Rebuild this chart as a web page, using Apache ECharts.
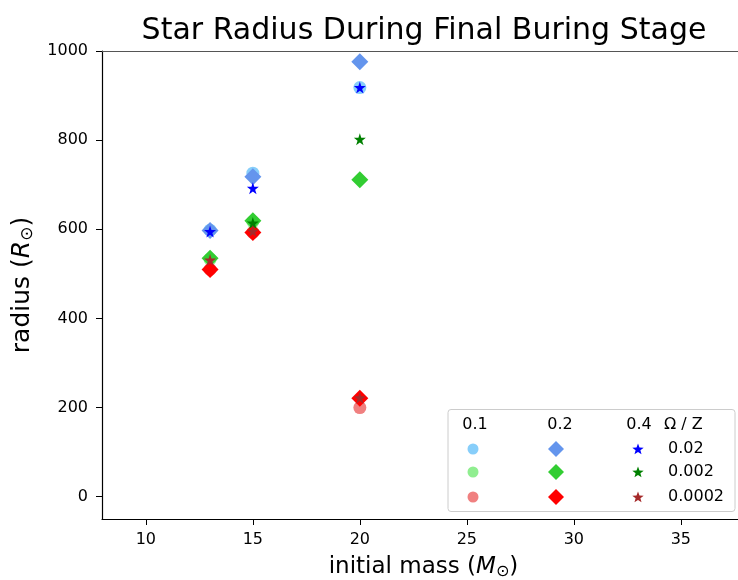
<!DOCTYPE html>
<html><head><meta charset="utf-8">
<script src="https://cdn.jsdelivr.net/npm/echarts@6/dist/echarts.min.js"></script>
<style>html,body{margin:0;padding:0;background:#fff}#c{width:738px;height:580px}</style>
</head><body><div id="c"></div>
<script>
// ---- data ----
const title = 'Star Radius During Final Buring Stage';
const xTicks = [10, 15, 20, 25, 30, 35];
const yTicks = [0, 200, 400, 600, 800, 1000];
// Omega = 0.1 (circles)
const circ_002  = [[13, 598], [15, 726], [20, 918]];
const circ_0002 = [[13, 533], [15, 617]];
const circ_00002 = [[13, 510], [15, 593], [20, 200]];
// Omega = 0.2 (diamonds)
const diam_002  = [[13, 597], [15, 718], [20, 976]];
const diam_0002 = [[13, 535], [15, 619], [20, 711]];
const diam_00002 = [[13, 510], [15, 593], [20, 221]];
// Omega = 0.4 (stars)
const star_002  = [[13, 595], [15, 692], [20, 918]];
const star_0002 = [[15, 614], [20, 802]];
const star_00002 = [[13, 531], [15, 596], [20, 222]];
const omegaLabels = ['0.1', '0.2', '0.4'];
const zLabels = ['0.02', '0.002', '0.0002'];

const FONT = 'DejaVu Sans';
const STAR = 'path://M50,0 L61.2,34.5 L97.6,34.5 L68.2,55.9 L79.4,90.5 L50,69.1 L20.6,90.5 L31.8,55.9 L2.4,34.5 L38.8,34.5 Z';
const colC = ['#87CEFA', '#90EE90', '#F08080'];
const colD = ['#6495ED', '#32CD32', '#FF0000'];
const colS = ['#0000FF', '#008000', '#A52A2A'];

function sc(data, sym, size, color, z) {
  return { type: 'scatter', data: data, symbol: sym, symbolSize: size, z: z,
    itemStyle: { color: color, opacity: 1 }, emphasis: { disabled: true }, animation: false };
}

function starPts(cx, cy, r) {
  const pts = [];
  for (let i = 0; i < 10; i++) {
    const rr = i % 2 === 0 ? r : r * 0.42;
    const a = -Math.PI / 2 + i * Math.PI / 5;
    pts.push([cx + rr * Math.cos(a), cy + rr * Math.sin(a)]);
  }
  return pts;
}

const F16 = '16px "' + FONT + '"';
const legendX = [473, 556, 638];
const rowsY = [449, 472, 497];
const g = [{ type: 'text', x: 424, y: 31, z: 101,
  style: { text: title, font: '30px "' + FONT + '"', fill: '#000', align: 'center', verticalAlign: 'middle' } },
  { type: 'rect', shape: { x: 448, y: 409.5, width: 287, height: 102, r: 3 },
  style: { fill: 'rgba(255,255,255,0.8)', stroke: '#cccccc', lineWidth: 1 }, z: 100 }];
const hdrX = [475, 560, 639];
omegaLabels.forEach((t, i) => g.push({ type: 'text', x: hdrX[i], y: 425, z: 101,
  style: { text: t, font: F16, fill: '#000', align: 'center', verticalAlign: 'middle' } }));
g.push({ type: 'text', x: 664, y: 425, z: 101,
  style: { text: 'Ω / Z', font: F16, fill: '#000', align: 'left', verticalAlign: 'middle' } });
for (let r = 0; r < 3; r++) {
  g.push({ type: 'circle', shape: { cx: legendX[0], cy: rowsY[r], r: 5.5 }, style: { fill: colC[r] }, z: 101 });
  const cx = legendX[1], cy = rowsY[r], d = 8;
  g.push({ type: 'polygon', shape: { points: [[cx, cy - d], [cx + d, cy], [cx, cy + d], [cx - d, cy]] }, style: { fill: colD[r] }, z: 101 });
  g.push({ type: 'polygon', shape: { points: starPts(legendX[2], rowsY[r] + 0.5, 6) }, style: { fill: colS[r] }, z: 101 });
  g.push({ type: 'text', x: 668, y: rowsY[r], z: 101,
    style: { text: zLabels[r], font: F16, fill: '#000', align: 'left', verticalAlign: 'middle' } });
}

const richName = (sz) => ({
  n: { fontSize: sz, fontFamily: FONT, color: '#000' },
  i: { fontSize: sz, fontFamily: FONT, fontStyle: 'italic', color: '#000' },
  s: { fontSize: Math.round(sz * 0.68), fontFamily: FONT, color: '#000', verticalAlign: 'bottom', padding: [Math.round(sz * 0.4), 0, 0, 0] }
});

const chart = echarts.init(document.getElementById('c'), null, { renderer: 'canvas' });
chart.setOption({
  animation: false,
  textStyle: { fontFamily: FONT },
  grid: { left: 102, top: 51, bottom: 61, right: -7, containLabel: false, outerBoundsMode: 'none' },
  xAxis: [{
    type: 'value', min: 7.95, max: 38, position: 'bottom',
    axisLine: { show: true, onZero: false, lineStyle: { color: '#000', width: 1.2 } },
    axisTick: { show: true, length: 6, customValues: xTicks, lineStyle: { color: '#000' } },
    axisLabel: { customValues: xTicks, color: '#000', fontSize: 16, margin: 13, fontFamily: FONT, formatter: v => String(v) },
    splitLine: { show: false },
    name: '{n|initial mass (}{i|M}{s|⊙}{n|)}', nameLocation: 'middle', nameGap: 36,
    nameTextStyle: { rich: richName(23) }
  }, {
    type: 'value', min: 7.95, max: 38, position: 'top',
    axisLine: { show: true, onZero: false, lineStyle: { color: '#555', width: 1.2 } },
    axisTick: { show: false }, axisLabel: { show: false }, splitLine: { show: false }
  }],
  yAxis: {
    type: 'value', min: -50, max: 1000,
    axisLine: { show: true, onZero: false, lineStyle: { color: '#000', width: 1.2 } },
    axisTick: { show: true, length: 6, customValues: yTicks, lineStyle: { color: '#000' } },
    axisLabel: { customValues: yTicks, color: '#000', fontSize: 16, margin: 14, fontFamily: FONT, formatter: v => String(v) },
    splitLine: { show: false },
    name: '{n|radius (}{i|R}{s|⊙}{n|)}', nameLocation: 'middle', nameGap: 66, nameRotate: 90,
    nameTextStyle: { rich: richName(25) }
  },
  series: [
    sc(circ_002, 'circle', 13, colC[0], 2),
    sc(circ_0002, 'circle', 13, colC[1], 2),
    sc(circ_00002, 'circle', 13, colC[2], 2),
    sc(diam_002, 'diamond', 17, colD[0], 3),
    sc(diam_0002, 'diamond', 17, colD[1], 3),
    sc(diam_00002, 'diamond', 17, colD[2], 3),
    sc(star_002, STAR, 12, colS[0], 4),
    sc(star_0002, STAR, 12, colS[1], 4),
    sc(star_00002, STAR, 12, colS[2], 4)
  ],
  graphic: g
});
</script></body></html>
